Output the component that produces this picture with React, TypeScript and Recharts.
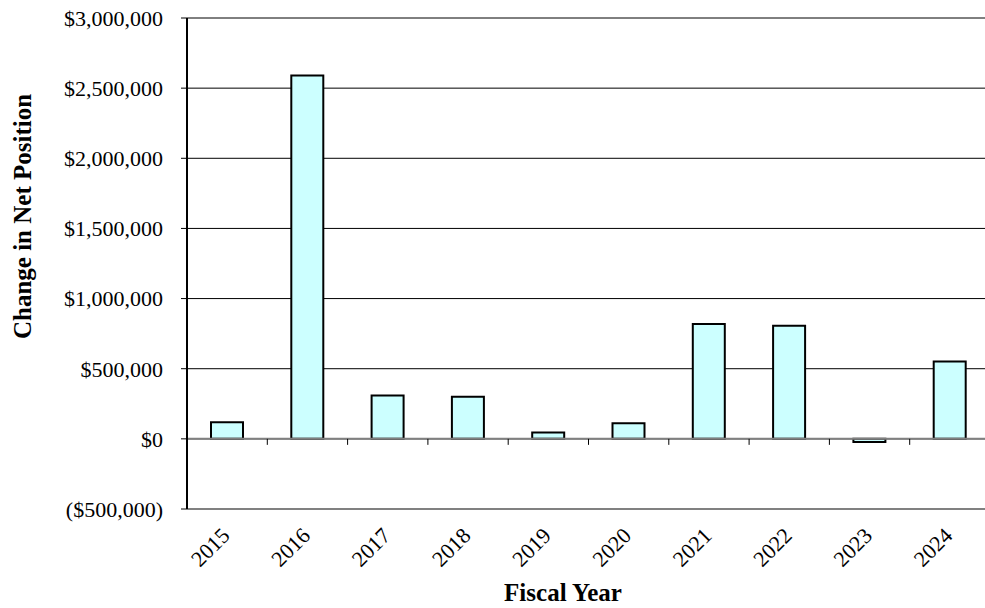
import React from 'react';
import { BarChart, Bar, XAxis, YAxis, CartesianGrid, ReferenceLine } from 'recharts';

// Fiscal years and the change in net position for each year (USD)
const fiscalYears = ['2015', '2016', '2017', '2018', '2019', '2020', '2021', '2022', '2023', '2024'];
const netPositionChange = [118000, 2591000, 309000, 300000, 45000, 112000, 818000, 806000, -22000, 551000];
const yTicks = [-500000, 0, 500000, 1000000, 1500000, 2000000, 2500000, 3000000];

const data = fiscalYears.map((year, i) => ({ year, change: netPositionChange[i] }));

const FONT = '"Liberation Serif", "Times New Roman", serif';
const TICK_SIZE = 22;
const TITLE_SIZE = 25;

const formatMoney = (v: number) => {
  const s = '$' + Math.abs(v).toLocaleString('en-US');
  return v < 0 ? `(${s})` : s;
};

// Rotated year labels hanging below the bottom axis
const YearTick = (props: any) => {
  const { x, y, payload } = props;
  const ax = x + 4;
  const ay = y + 28;
  return (
    <text
      x={ax}
      y={ay}
      textAnchor="end"
      transform={`rotate(-45 ${ax} ${ay})`}
      fontFamily={FONT}
      fontSize={TICK_SIZE}
      fill="#000"
    >
      {payload.value}
    </text>
  );
};

// Zero baseline with category separator ticks
const ZeroLine = (props: any) => {
  const { x1, y1, x2 } = props;
  const n = fiscalYears.length;
  const step = (x2 - x1) / n;
  const ticks = [];
  for (let i = 1; i < n; i++) {
    const tx = x1 + i * step;
    ticks.push(<line key={i} x1={tx} y1={y1} x2={tx} y2={y1 + 6} stroke="#000" strokeWidth={1} />);
  }
  return (
    <g>
      <line x1={x1} y1={y1} x2={x2} y2={y1} stroke="#808080" strokeWidth={2} />
      {ticks}
    </g>
  );
};

export default function App() {
  return (
    <div
      style={{
        position: 'absolute',
        left: 0,
        top: 0,
        width: 985,
        height: 608,
        overflow: 'hidden',
        background: '#fff',
      }}
    >
      <BarChart
        width={1000}
        height={608}
        data={data}
        margin={{ top: 18, right: 10, bottom: 0, left: 0 }}
        barSize={32}
      >
        <CartesianGrid horizontal vertical={false} stroke="#000" strokeWidth={1} />
        <XAxis
          dataKey="year"
          interval={0}
          height={99}
          tickSize={0}
          tickMargin={0}
          tickLine={false}
          axisLine={{ stroke: '#808080', strokeWidth: 2 }}
          tick={<YearTick />}
          label={{
            content: (p: any) => {
              const vb = p.viewBox;
              return (
                <text
                  x={vb.x + 376}
                  y={vb.y + 92}
                  textAnchor="middle"
                  fontFamily={FONT}
                  fontSize={TITLE_SIZE}
                  fontWeight="bold"
                  fill="#000"
                >
                  Fiscal Year
                </text>
              );
            },
          }}
        />
        <YAxis
          width={187}
          domain={[-500000, 3000000]}
          ticks={yTicks}
          interval={0}
          tickFormatter={formatMoney}
          tickSize={6}
          tickMargin={18}
          tickLine={{ stroke: '#000', strokeWidth: 1 }}
          axisLine={{ stroke: '#000', strokeWidth: 2 }}
          tick={{ fontFamily: FONT, fontSize: TICK_SIZE, fill: '#000' }}
          label={{
            content: (p: any) => {
              const vb = p.viewBox;
              const cx = 22;
              const cy = vb.y + vb.height / 2 - 47;
              return (
                <text
                  x={cx}
                  y={cy}
                  textAnchor="middle"
                  dominantBaseline="central"
                  transform={`rotate(-90 ${cx} ${cy})`}
                  fontFamily={FONT}
                  fontSize={TITLE_SIZE}
                  fontWeight="bold"
                  fill="#000"
                >
                  Change in Net Position
                </text>
              );
            },
          }}
        />
        <ReferenceLine y={0} shape={<ZeroLine />} />
        <Bar
          dataKey="change"
          fill="#CCFFFF"
          stroke="#000"
          strokeWidth={2}
          isAnimationActive={false}
        />
      </BarChart>
    </div>
  );
}
